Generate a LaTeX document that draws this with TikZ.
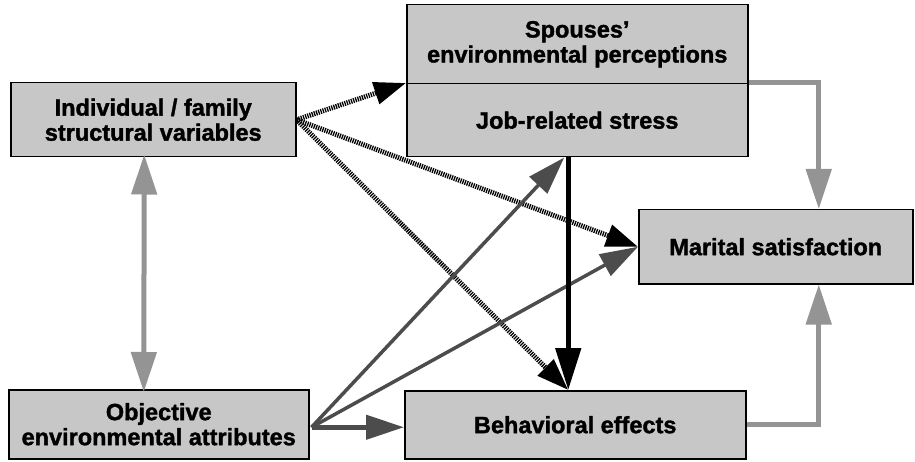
\documentclass[tikz,border=0pt]{standalone}
\usepackage{fontspec}
\setmainfont{Liberation Sans}[BoldFeatures={FakeBold=1.5}]
\usetikzlibrary{arrows.meta}
\definecolor{boxgray}{gray}{0.78}
\definecolor{lightarrow}{gray}{0.58}
\definecolor{darkarrow}{gray}{0.30}
\begin{document}
\begin{tikzpicture}[x=1pt,y=-1pt,
  box/.style={draw=black, line width=1.5pt, fill=boxgray, align=center, inner sep=0pt,
    anchor=north west, font=\bfseries\fontsize{23.5}{25}\selectfont},
  grayarrow/.style={draw=lightarrow, line width=5pt, -{Triangle[length=40pt,width=25pt]}},
  graydouble/.style={draw=lightarrow, line width=5pt, {Triangle[length=40pt,width=25pt]}-{Triangle[length=40pt,width=25pt]}},
  hatcharrow/.style={draw=black, line width=5pt, dash pattern=on 1.3pt off 1pt, -{Triangle[length=32pt,width=22pt]}},
  darkline/.style={draw=darkarrow, line width=3.5pt, -{Triangle[length=38pt,width=24pt]}},
  blackline/.style={draw=black, line width=5pt, -{Triangle[length=42pt,width=25pt]}}]
\useasboundingbox (0,0) rectangle (915,462);

\node[box, minimum width=285pt, minimum height=74pt] (ind) at (10,82) {Individual / family\\structural variables};
\node[box, minimum width=341pt, minimum height=79pt] (sp) at (406,4) {Spouses'\\environmental perceptions};
\node[box, minimum width=341pt, minimum height=73pt] (job) at (406,83) {Job-related stress};
\node[box, minimum width=274pt, minimum height=74pt] (mar) at (638,209) {Marital satisfaction};
\node[box, minimum width=300pt, minimum height=69pt] (obj) at (8,389) {Objective\\environmental attributes};
\node[box, minimum width=341pt, minimum height=68pt] (beh) at (404,390) {Behavioral effects};

\path (ind.south) ++(-9,0) coordinate (indb);
\path (obj.north) ++(-15,0) coordinate (objt);
\path (job.south) ++(-9,0) coordinate (jsb);
\path (beh.north) ++(-7,0) coordinate (bht);
\path (mar.north) ++(43,0) coordinate (mtop);
\path (mar.south) ++(43,0) coordinate (mbot);
\path (obj.east) ++(2,3) coordinate (oe);

\draw[graydouble] ([yshift=3]indb) -- ([yshift=-3]objt);

\draw[hatcharrow] (ind.east) -- (job.north west);
\draw[hatcharrow] (ind.east) -- (mar.west);
\draw[hatcharrow] (ind.east) -- (bht);

\draw[darkline] (oe) -- ([xshift=-4]jsb);
\draw[darkline] (oe) -- (mar.west);
\draw[darkline, line width=4.5pt] (oe) -- (beh.west |- oe);

\draw[blackline] (jsb) -- (bht);

\draw[grayarrow] (job.north east) -| (mtop);
\draw[grayarrow] (beh.east) -| (mbot);
\end{tikzpicture}
\end{document}
